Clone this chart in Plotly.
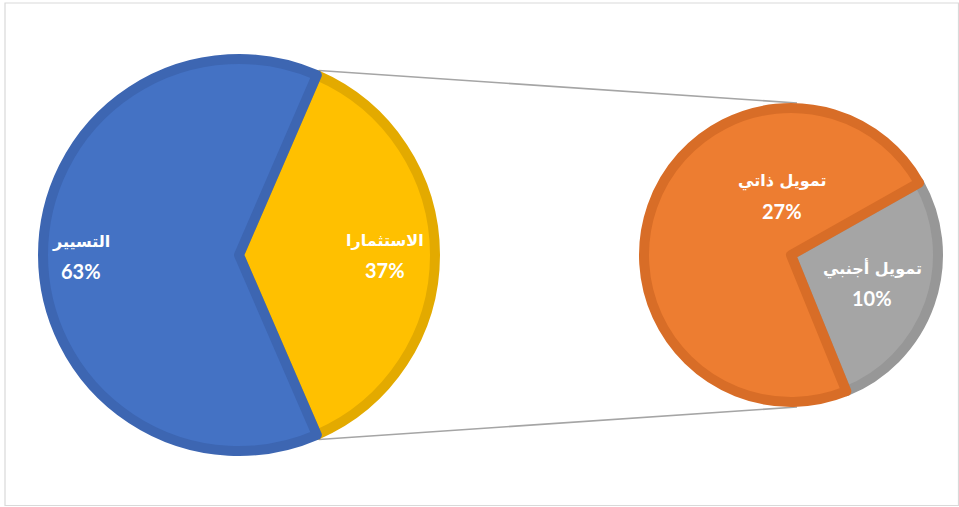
import math
import plotly.graph_objects as go

# ---- data ----
main_labels = ["الاستثمارا", "التسيير"]
main_values = [37, 63]
sub_labels = ["تمويل أجنبي", "تمويل ذاتي"]
sub_values = [10, 27]

# ---- styles ----
W, H = 959, 507
main_fill = ["#FFC000", "#4472C4"]
main_edge = ["#E3AA00", "#3D66B2"]
sub_fill = ["#A5A5A5", "#ED7D31"]
sub_edge = ["#979797", "#D86D27"]
LW = 10

# geometry (pixels)
c1 = (239, 255); r1 = 201
c2 = (791, 255); r2 = 152

def px(x):
    return x / W

def py(y):
    return 1 - y / H

def domain(c, r):
    rr = r - LW / 2
    return dict(x=[px(c[0] - rr), px(c[0] + rr)], y=[py(c[1] + rr), py(c[1] - rr)])

split_frac = main_values[0] / sum(main_values)
half_angle = split_frac * 180.0

fig = go.Figure()
fig.add_trace(go.Pie(
    labels=main_labels, values=main_values, sort=False,
    direction="clockwise", rotation=90 - half_angle,
    marker=dict(colors=main_fill, line=dict(color=main_edge, width=LW)),
    textinfo="none", hoverinfo="label+percent",
    domain=domain(c1, r1), showlegend=False,
))
fig.add_trace(go.Pie(
    labels=sub_labels, values=sub_values, sort=False,
    direction="clockwise", rotation=60.6,
    marker=dict(colors=sub_fill, line=dict(color=sub_edge, width=LW)),
    textinfo="none", hoverinfo="label+value",
    domain=domain(c2, r2), showlegend=False,
))

# connector lines
a = math.radians(half_angle)
p_top = (c1[0] + r1 * math.cos(a), c1[1] - r1 * math.sin(a))
p_bot = (c1[0] + r1 * math.cos(a), c1[1] + r1 * math.sin(a))
q_top = (c2[0] + 6, c2[1] - r2)
q_bot = (c2[0] + 6, c2[1] + r2)
shapes = []
for p, q in [(p_top, q_top), (p_bot, q_bot)]:
    shapes.append(dict(type="line", xref="paper", yref="paper",
                       x0=px(p[0]), y0=py(p[1]), x1=px(q[0]), y1=py(q[1]),
                       line=dict(color="#A5A5A5", width=1.5), layer="below"))
# chart border
shapes.append(dict(type="rect", xref="paper", yref="paper",
                   x0=px(5), y0=py(505.5), x1=px(958.5), y1=py(3),
                   line=dict(color="#D9D9D9", width=1.2), layer="below"))

# data labels
total = sum(main_values)
label_pos = [(385, 255), (81, 256)]
sub_label_pos = [(872, 283), (782, 196)]
FONT_AR = dict(color="white", size=16, family="DejaVu Sans")
FONT_PCT = dict(color="white", size=20, family="Lato, DejaVu Sans")
ann = []
for lab, v, pos in list(zip(main_labels, main_values, label_pos)) + list(zip(sub_labels, sub_values, sub_label_pos)):
    ann.append(dict(x=px(pos[0]), y=py(pos[1] - 15), xref="paper", yref="paper",
                    text=f"<b>{lab}</b>", xanchor="center", yanchor="middle",
                    showarrow=False, font=FONT_AR))
    ann.append(dict(x=px(pos[0]), y=py(pos[1] + 15), xref="paper", yref="paper",
                    text=f"<b>{round(100*v/total)}%</b>", xanchor="center", yanchor="middle",
                    showarrow=False, font=FONT_PCT))

fig.update_layout(
    width=W, height=H, margin=dict(l=0, r=0, t=0, b=0),
    paper_bgcolor="white", plot_bgcolor="white",
    shapes=shapes, annotations=ann,
)
fig.write_html("out.html", config={"displayModeBar": False},
               post_script="document.body.style.margin='0';document.body.style.overflow='hidden';")
